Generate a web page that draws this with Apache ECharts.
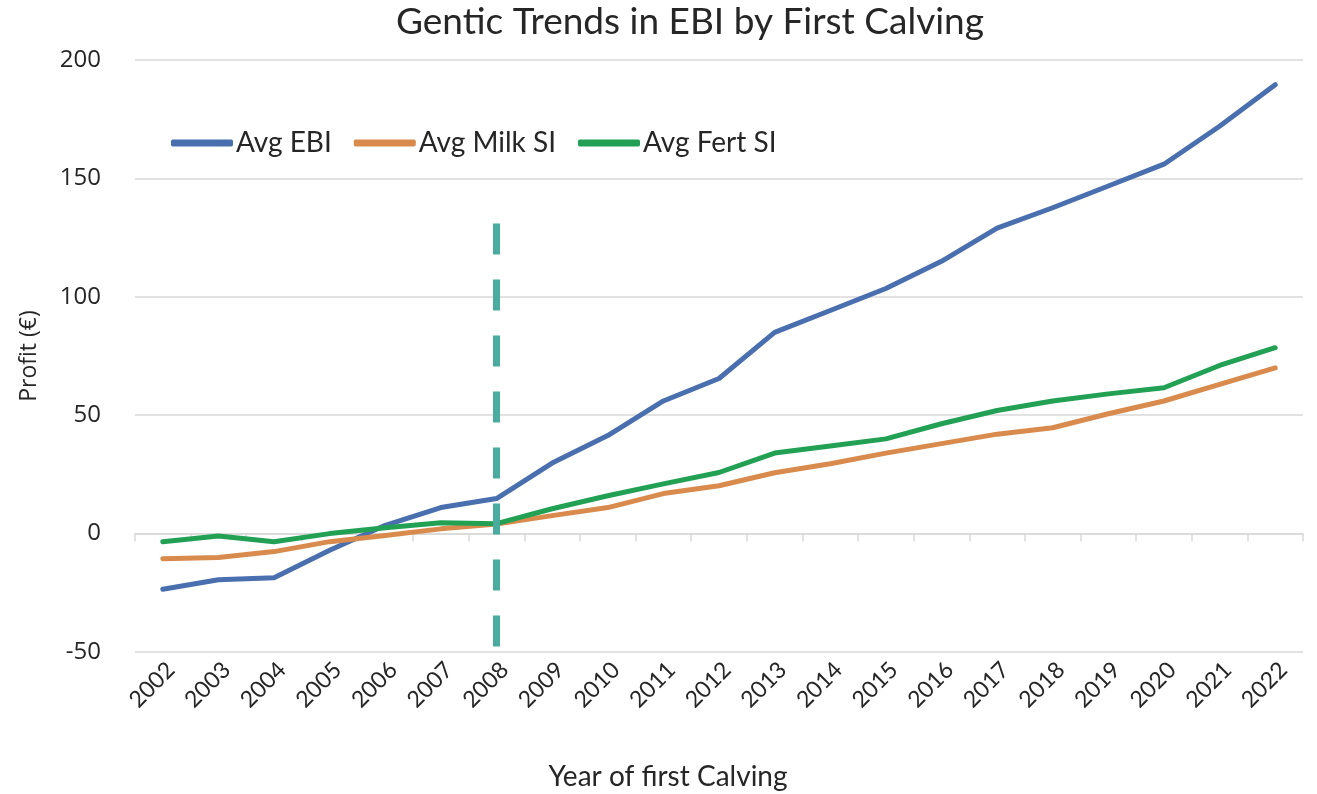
<!DOCTYPE html>
<html>
<head>
<meta charset="utf-8">
<title>Gentic Trends in EBI by First Calving</title>
<script src="https://cdn.jsdelivr.net/npm/echarts@6/dist/echarts.min.js"></script>
<style>
  html, body { margin: 0; padding: 0; background: #ffffff; }
  #chart { width: 1317px; height: 794px; }
</style>
</head>
<body>
<div id="chart"></div>
<script>
// Year of first calving
const years = ['2002', '2003', '2004', '2005', '2006', '2007', '2008', '2009', '2010', '2011',
  '2012', '2013', '2014', '2015', '2016', '2017', '2018', '2019', '2020', '2021', '2022'];

// Average index values (€ profit) per calving year
const avgEBI = [-23.5, -19.5, -18.6, -7, 3.5, 11, 14.8, 29.8, 41.4, 56, 65.5,
  85, 94.2, 103.5, 115, 129, 137.6, 146.8, 156, 172, 189.6];
const avgMilkSI = [-10.6, -10.1, -7.6, -3.4, -0.8, 2, 4, 7.6, 11, 16.9, 20.2,
  25.7, 29.5, 34, 38, 42, 44.7, 50.6, 56, 63, 70];
const avgFertSI = [-3.4, -1, -3.4, 0, 2.5, 4.6, 4.2, 10.5, 16, 21, 25.8,
  34, 37, 40, 46.4, 52, 56, 59, 61.6, 71, 78.5];

// Marker year and the vertical span of the dashed reference line
const markerYear = '2008';
const markerSpan = [131, -48];

const textColor = '#262626';
const gridColor = '#d9d9d9';

const chart = echarts.init(document.getElementById('chart'));

chart.setOption({
  backgroundColor: '#ffffff',
  animation: false,
  title: {
    text: 'Gentic Trends in EBI by First Calving',
    left: 396,
    top: 4,
    padding: 0,
    textStyle: { fontFamily: 'Lato', fontSize: 37, fontWeight: 'normal', color: textColor }
  },
  legend: {
    left: 166,
    top: 124,
    icon: 'roundRect',
    itemWidth: 62,
    itemHeight: 7,
    itemGap: 22,
    textStyle: { fontFamily: 'Lato', fontSize: 28, color: textColor, padding: [0, 0, 0, -2] },
    data: ['Avg EBI', 'Avg Milk SI', 'Avg Fert SI']
  },
  grid: { left: 135, right: 14, top: 60, bottom: 142, containLabel: false, outerBoundsMode: 'none' },
  xAxis: [
    {
      // zero line with boundary ticks
      type: 'category',
      data: years,
      position: 'top',
      boundaryGap: true,
      axisLine: { show: true, onZero: true, lineStyle: { color: gridColor, width: 1.5 } },
      axisTick: { show: true, inside: true, length: 8, lineStyle: { color: gridColor, width: 1.5 } },
      axisLabel: { show: false },
      splitLine: { show: false }
    },
    {
      // year labels along the bottom
      type: 'category',
      data: years,
      position: 'bottom',
      boundaryGap: true,
      axisLine: { show: false, onZero: false },
      axisTick: { show: false },
      axisLabel: {
        rotate: 45,
        margin: 6,
        verticalAlign: 'top',
        fontFamily: 'Lato',
        fontSize: 23,
        color: textColor
      },
      name: 'Year of first Calving',
      nameLocation: 'middle',
      nameGap: 111,
      nameTextStyle: { fontFamily: 'Lato', fontSize: 28, color: textColor, padding: [0, 102, 0, 0] }
    }
  ],
  yAxis: {
    type: 'value',
    min: -50,
    max: 200,
    interval: 50,
    axisLine: { show: false },
    axisTick: { show: false },
    axisLabel: { fontFamily: 'Open Sans', fontSize: 24, color: textColor, margin: 34 },
    splitLine: { lineStyle: { color: gridColor, width: 1.5 } },
    name: 'Profit (€)',
    nameLocation: 'middle',
    nameGap: 94,
    nameRotate: 90,
    nameTextStyle: { fontFamily: 'Open Sans', fontSize: 23, color: textColor }
  },
  series: [
    {
      name: 'Avg EBI',
      type: 'line',
      xAxisIndex: 1,
      data: avgEBI,
      symbol: 'none',
      lineStyle: { color: '#4a6fae', width: 5, cap: 'round', join: 'round' },
      itemStyle: { color: '#4a6fae' },
      markLine: {
        silent: true,
        symbol: 'none',
        label: { show: false },
        lineStyle: { color: '#4aab9f', width: 7, type: [31, 25] },
        data: [[
          { coord: [markerYear, markerSpan[0]] },
          { coord: [markerYear, markerSpan[1]] }
        ]]
      }
    },
    {
      name: 'Avg Milk SI',
      type: 'line',
      xAxisIndex: 1,
      data: avgMilkSI,
      symbol: 'none',
      lineStyle: { color: '#d98b4e', width: 5, cap: 'round', join: 'round' },
      itemStyle: { color: '#d98b4e' }
    },
    {
      name: 'Avg Fert SI',
      type: 'line',
      xAxisIndex: 1,
      data: avgFertSI,
      symbol: 'none',
      lineStyle: { color: '#22a154', width: 5, cap: 'round', join: 'round' },
      itemStyle: { color: '#22a154' }
    }
  ]
});
</script>
</body>
</html>
